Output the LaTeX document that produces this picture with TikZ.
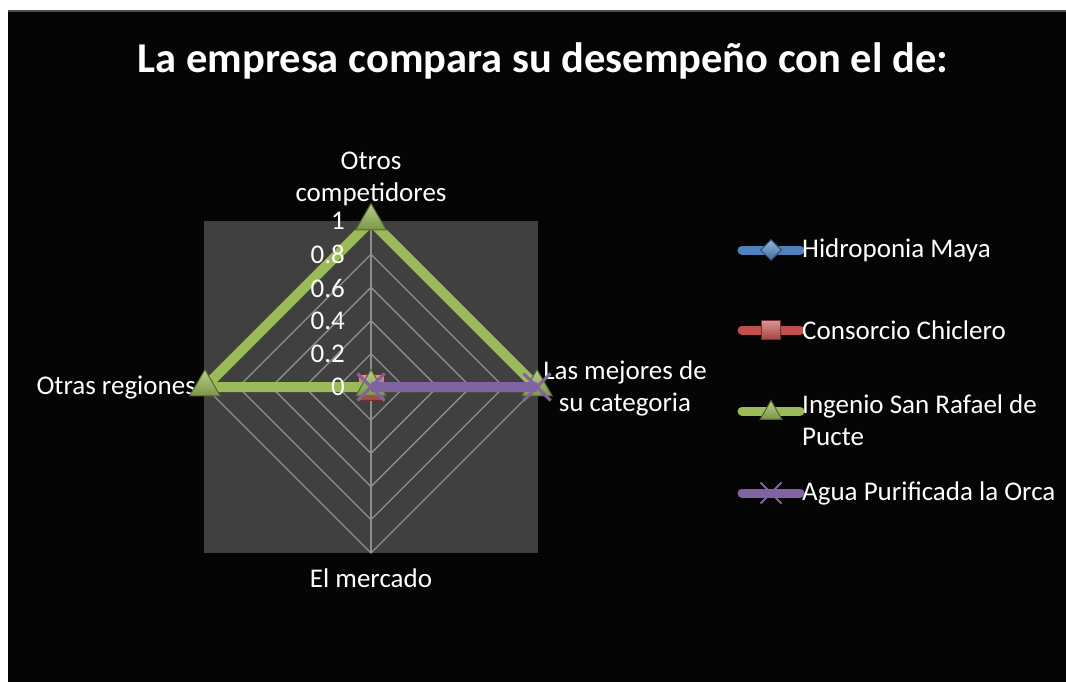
\documentclass[tikz,border=0pt]{standalone}
\usepackage{fontspec}
\setmainfont{Carlito}
\usetikzlibrary{positioning,shapes.geometric,shapes.misc}
\definecolor{plotgray}{HTML}{404040}
\definecolor{gridgray}{HTML}{8E8E8E}
\definecolor{serieblue}{HTML}{4F81BD}
\definecolor{seriered}{HTML}{C0504D}
\definecolor{seriegreen}{HTML}{9BBB59}
\definecolor{seriepurple}{HTML}{8064A2}
\tikzset{
  gridline/.style={draw=gridgray, line width=1.3pt},
  serie/.style={line width=10pt, line join=miter},
  legline/.style={line width=9pt, line cap=round},
  label/.style={text=white, font=\fontsize{27}{32}\selectfont, inner sep=1pt},
  tick/.style={label, anchor=east},
  trimark/.style={regular polygon, regular polygon sides=3, top color=seriegreen!70!white,
                  bottom color=seriegreen!80!black, draw=seriegreen!55!black,
                  line width=1pt, minimum size=35pt, inner sep=0pt},
  sqmark/.style={rectangle, top color=seriered!60!white, bottom color=seriered!85!black,
                 draw=seriered!60!black, line width=1pt, minimum size=26pt, inner sep=0pt},
  dimark/.style={diamond, top color=serieblue!60!white, bottom color=serieblue!85!black,
                 draw=serieblue!60!black, line width=1pt, minimum size=24pt, inner sep=0pt},
  xmark/.style={cross out, draw=seriepurple, line width=3pt, minimum size=24pt, inner sep=0pt},
  legmark/.style={minimum size=#1}
}

\begin{document}
\begin{tikzpicture}[x=1pt,y=-1pt]
    % Background and chart area
    \useasboundingbox (0,0) rectangle (1066,682);
    \fill[white] (0,0) rectangle (1066,682);
    \fill[black!98] (8,10) rectangle (1066,682);
    \draw[black!70, line width=1.5pt] (8,11) -- (1066,11);
    \node (title) at (543,61) [text=white, font=\fontsize{42.5}{48}\selectfont\bfseries]
          {La empresa compara su desempeño con el de:};

    % Plot area and grid
    \fill[plotgray] (204,221) rectangle (538,553);
    \coordinate (center) at (371,387);
    \foreach \r in {33.2,66.4,99.6,132.8,166} {
      \draw[gridline] (371,387-\r) -- (371+\r,387) -- (371,387+\r) -- (371-\r,387) -- cycle;
    }
    \coordinate (top) at (371,221);
    \coordinate (right) at (537,387);
    \coordinate (bottom) at (371,553);
    \coordinate (left) at (205,387);
    \draw[gridline] (center) -- (top) (center) -- (right)
                    (center) -- (bottom) (center) -- (left);

    % Category labels
    \node (otros) at (371,179) [label, align=center] {Otros\\competidores};
    \node (mejores) at (625,388) [label, align=center] {Las mejores de\\su categoria};
    \node (mercado) at (371,578) [label] {El mercado};
    \node (regiones) at (197,388) [label, anchor=east] {Otras regiones};

    % Series
    \node[dimark] (hmaya) at (center) {};
    \node[sqmark] (cchicl) at (center) {};
    \draw[serie, seriegreen] (top) -- (right) -- (center) -- (left) -- cycle;
    \foreach \p in {top,right,center,left} {
      \node[trimark] at (\p) {};
    }
    \draw[serie, seriepurple] (center) -- (right);
    \node[xmark] (orca0) at (center) {};
    \node[xmark] (orca1) at (right) {};

    % Axis values
    \foreach \v/\y in {0/387,0.2/354,0.4/321,0.6/288,0.8/254,1/221} {
      \node[tick] at (346,\y) {\v};
    }

    % Legend
    \foreach \y/\col in {250/serieblue,330/seriered,411/seriegreen,493/seriepurple} {
      \draw[legline, \col] (742,\y) -- (800,\y);
    }
    \node[dimark, legmark=21pt] (legblue) at (771,250) {};
    \node[sqmark, legmark=19pt] (legred) at (771,330) {};
    \node[trimark, legmark=25pt] (leggreen) at (771,413) {};
    \node[xmark, legmark=19pt, line width=2pt] (legpurple) at (771,493) {};
    \node (lhmaya) [label, anchor=west] at (801,250) {Hidroponia Maya};
    \node (lcchicl) [label, anchor=west] at (801,330) {Consorcio Chiclero};
    \node (lingenio) [label, anchor=north west, align=left] at (801,394)
          {Ingenio San Rafael de\\Pucte};
    \node (lorca) [label, anchor=west] at (801,493) {Agua Purificada la Orca};
\end{tikzpicture}
\end{document}
